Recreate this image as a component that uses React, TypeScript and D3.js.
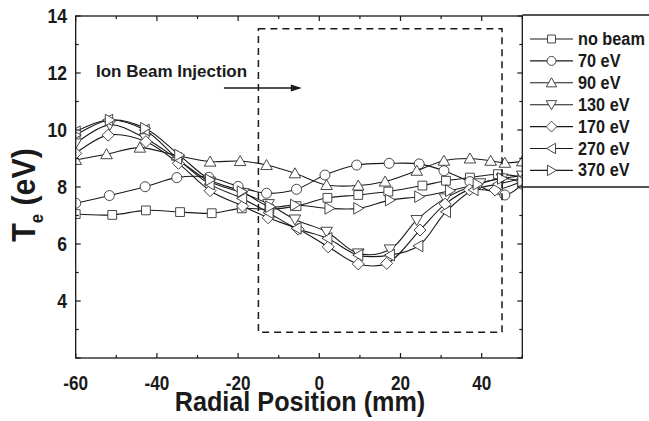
import React from "react";
import * as d3 from "d3";

const xTicks = [-60, -40, -20, 0, 20, 40];
const yTicks = [4, 6, 8, 10, 12, 14];

const seriesNames = ["no beam", "70 eV", "90 eV", "130 eV", "170 eV", "270 eV", "370 eV"];
const seriesMarkers = ["square", "circle", "triUp", "triDown", "diamond", "triLeft", "triRight"];

const noBeam: [number, number][] = [
  [-60, 7.05], [-51, 7.02], [-42.7, 7.18], [-34.3, 7.12], [-26.5, 7.08], [-19.1, 7.25], [-12.3, 7.22],
  [-5.6, 7.33], [2.0, 7.62], [9.6, 7.72], [17.0, 7.84], [25.4, 8.05], [31.2, 8.22], [37.1, 8.33], [44, 8.45], [50, 8.35],
];
const ev70: [number, number][] = [
  [-60, 7.43], [-51.7, 7.7], [-42.9, 8.01], [-35.1, 8.33], [-27.2, 8.34], [-20, 8.02], [-13, 7.78],
  [-5.6, 7.92], [1.4, 8.42], [9.2, 8.77], [17.2, 8.83], [24.6, 8.81], [30.7, 8.57], [37.1, 8.19], [45.7, 7.72], [50, 8.1],
];
const ev90: [number, number][] = [
  [-60, 8.95], [-52.4, 9.15], [-44.2, 9.38], [-35, 9.1], [-26.9, 8.89], [-19.5, 8.91], [-13, 8.77],
  [-6, 8.48], [1.8, 8.07], [9.6, 8.05], [16.2, 8.19], [24, 8.57], [30.7, 8.92], [37.1, 9.0], [42.2, 8.92], [45.7, 8.85], [50, 8.9],
];
const ev130: [number, number][] = [
  [-60, 9.53], [-51.6, 10.18], [-42.9, 9.71], [-34.7, 8.95], [-27, 8.19], [-18.7, 7.78], [-12.5, 7.4],
  [-6, 6.86], [1.8, 6.43], [9.6, 5.67], [17.4, 5.81], [24, 6.84], [31, 7.6], [39.6, 8.13], [45, 8.3], [50, 8.4],
];
const ev170: [number, number][] = [
  [-60, 9.18], [-52, 9.82], [-42.7, 9.59], [-34.7, 8.83], [-26.9, 7.87], [-18.9, 7.33], [-12.6, 6.92],
  [-5.2, 6.52], [2.2, 5.9], [9.6, 5.3], [16.6, 5.32], [24.8, 6.49], [31, 7.4], [37, 7.9], [43.3, 7.89], [50, 8.2],
];
const ev270: [number, number][] = [
  [-60, 9.94], [-52, 10.35], [-43, 10.0], [-35, 9.0], [-27, 8.1], [-19, 7.6], [-12.5, 7.1],
  [-5.6, 6.55], [2, 6.2], [9.6, 5.61], [17.4, 5.61], [24.4, 5.93], [31.2, 7.13], [38, 7.9], [44, 8.1], [50, 8.3],
];
const ev370: [number, number][] = [
  [-60, 9.82], [-51.6, 10.35], [-42.9, 10.06], [-34.5, 9.12], [-26.9, 8.25], [-19.1, 7.84], [-12.1, 7.31],
  [-6, 7.37], [2.5, 7.25], [9.6, 7.25], [17.4, 7.54], [24.6, 7.66], [32.2, 7.87], [39, 8.1], [45, 8.3], [50, 8.2],
];
const allSeries = [noBeam, ev70, ev90, ev130, ev170, ev270, ev370];

const boxX = [-15, 45];
const boxY = [2.9, 13.55];
const arrowX = [-23.5, -4.3];
const arrowY = 11.47;
const annotation = "Ion Beam Injection";

const W = 649, H = 421;
const FONT = "'Liberation Sans', Arial, Helvetica, sans-serif";

function markerPath(kind: string, cx: number, cy: number, k = 1): string {
  const s = 4.4 * k;
  switch (kind) {
    case "square":
      return `M${cx - s},${cy - s}h${2 * s}v${2 * s}h${-2 * s}Z`;
    case "circle": {
      const r = 5 * k;
      return `M${cx - r},${cy}a${r},${r} 0 1,0 ${2 * r},0a${r},${r} 0 1,0 ${-2 * r},0Z`;
    }
    case "diamond": {
      const d = 6 * k;
      return `M${cx},${cy - d}L${cx + d},${cy}L${cx},${cy + d}L${cx - d},${cy}Z`;
    }
    case "triUp":
      return `M${cx},${cy - 5.5 * k}L${cx + 5.8 * k},${cy + 4.5 * k}L${cx - 5.8 * k},${cy + 4.5 * k}Z`;
    case "triDown":
      return `M${cx},${cy + 5.5 * k}L${cx + 5.8 * k},${cy - 4.5 * k}L${cx - 5.8 * k},${cy - 4.5 * k}Z`;
    case "triLeft":
      return `M${cx - 5.5 * k},${cy}L${cx + 4.5 * k},${cy - 5.8 * k}L${cx + 4.5 * k},${cy + 5.8 * k}Z`;
    case "triRight":
      return `M${cx + 5.5 * k},${cy}L${cx - 4.5 * k},${cy - 5.8 * k}L${cx - 4.5 * k},${cy + 5.8 * k}Z`;
  }
  return "";
}

function T(props: { x: number; y: number; sx?: number; size: number; anchor?: string; children: React.ReactNode; rotate?: number }) {
  const { x, y, sx = 1, size, anchor = "start", children, rotate = 0 } = props;
  return (
    <text
      transform={`translate(${x},${y}) rotate(${rotate}) scale(${sx},1)`}
      textAnchor={anchor as any}
      fontFamily={FONT}
      fontWeight="bold"
      fontSize={size}
      fill="#1a1a1a"
    >
      {children}
    </text>
  );
}

export default function App() {
  const x = d3.scaleLinear().domain([-60, 50]).range([75.7, 522.3]);
  const y = d3.scaleLinear().domain([2, 14]).range([358, 16]);
  const [x0, x1] = x.range();
  const [yb, yt] = y.range();
  const line = d3
    .line<[number, number]>()
    .x((d) => x(d[0]))
    .y((d) => y(d[1]))
    .curve(d3.curveCatmullRom.alpha(0.5));

  const xMinor = d3.range(-60, 51, 10);
  const yMinor = d3.range(2, 14.01, 1);
  const ink = "#1a1a1a";

  const legendX0 = 530, legendX1 = 573, legendM = 551.5, legendT = 578;
  const legendY = (i: number) => 39 + i * 21.9;

  return (
    <div style={{ position: "fixed", left: 0, top: 0 }}>
      <svg width={W} height={H} style={{ display: "block", background: "#fff" }}>
        <defs>
          <clipPath id="clip">
            <rect x={x0} y={yt} width={x1 - x0} height={yb - yt} />
          </clipPath>
        </defs>
        <g clipPath="url(#clip)">
          {allSeries.map((s, i) => (
            <path key={i} d={line(s) || ""} fill="none" stroke={ink} strokeWidth={1.1} />
          ))}
          {allSeries.map((s, i) => (
            <g key={"m" + i}>
              {s.map((d, j) => (
                <path key={j} d={markerPath(seriesMarkers[i], x(d[0]), y(d[1]))} fill="#fff" stroke="#333" strokeWidth={0.9} />
              ))}
            </g>
          ))}
        </g>
        {/* dashed region */}
        <rect
          x={x(boxX[0])}
          y={y(boxY[1])}
          width={x(boxX[1]) - x(boxX[0])}
          height={y(boxY[0]) - y(boxY[1])}
          fill="none"
          stroke={ink}
          strokeWidth={1.5}
          strokeDasharray="7,5"
        />
        {/* arrow */}
        <line x1={x(arrowX[0])} x2={x(arrowX[1]) - 9} y1={y(arrowY)} y2={y(arrowY)} stroke={ink} strokeWidth={1.5} />
        <path d={`M${x(arrowX[1])},${y(arrowY)}l-11,-3.5v7Z`} fill={ink} />
        <T x={x(-55)} y={77} size={17}>{annotation}</T>
        {/* frame */}
        <rect x={x0} y={yt} width={x1 - x0} height={yb - yt} fill="none" stroke={ink} strokeWidth={1.3} />
        {xMinor.map((v) => {
          const len = v % 20 === 0 ? 5 : 3;
          return (
            <g key={"xt" + v}>
              <line x1={x(v)} x2={x(v)} y1={yb} y2={yb - len} stroke={ink} strokeWidth={1.2} />
              <line x1={x(v)} x2={x(v)} y1={yt} y2={yt + len} stroke={ink} strokeWidth={1.2} />
            </g>
          );
        })}
        {yMinor.map((v) => {
          const len = v % 2 === 0 ? 5 : 3;
          return (
            <g key={"yt" + v}>
              <line x1={x0} x2={x0 + len} y1={y(v)} y2={y(v)} stroke={ink} strokeWidth={1.2} />
              <line x1={x1} x2={x1 - len} y1={y(v)} y2={y(v)} stroke={ink} strokeWidth={1.2} />
            </g>
          );
        })}
        {xTicks.map((v) => (
          <T key={"xl" + v} x={x(v)} y={390} size={19.5} sx={0.88} anchor="middle">{v}</T>
        ))}
        {yTicks.map((v) => (
          <T key={"yl" + v} x={67} y={y(v) + 7} size={19.5} sx={0.9} anchor="end">{v}</T>
        ))}
        {/* axis titles */}
        <T x={300} y={411} size={28} sx={0.9} anchor="middle">Radial Position (mm)</T>
        <T x={35} y={195} size={33} sx={0.92} rotate={-90} anchor="middle">
          T<tspan fontSize={18} dy={8}>e</tspan>
          <tspan dy={-8}> (eV)</tspan>
        </T>
        {/* legend */}
        <line x1={x1} x2={W} y1={yt - 1} y2={yt - 1} stroke={ink} strokeWidth={1.3} />
        <line x1={x1} x2={W} y1={187} y2={187} stroke={ink} strokeWidth={1.3} />
        {seriesNames.map((name, i) => (
          <g key={"lg" + i}>
            <line x1={legendX0} x2={legendX1} y1={legendY(i)} y2={legendY(i)} stroke={ink} strokeWidth={1.1} />
            <path d={markerPath(seriesMarkers[i], legendM, legendY(i), 0.9)} fill="#fff" stroke="#333" strokeWidth={0.9} />
            <T x={legendT} y={legendY(i) + 6} size={17.5} sx={0.93}>{name}</T>
          </g>
        ))}
      </svg>
    </div>
  );
}
